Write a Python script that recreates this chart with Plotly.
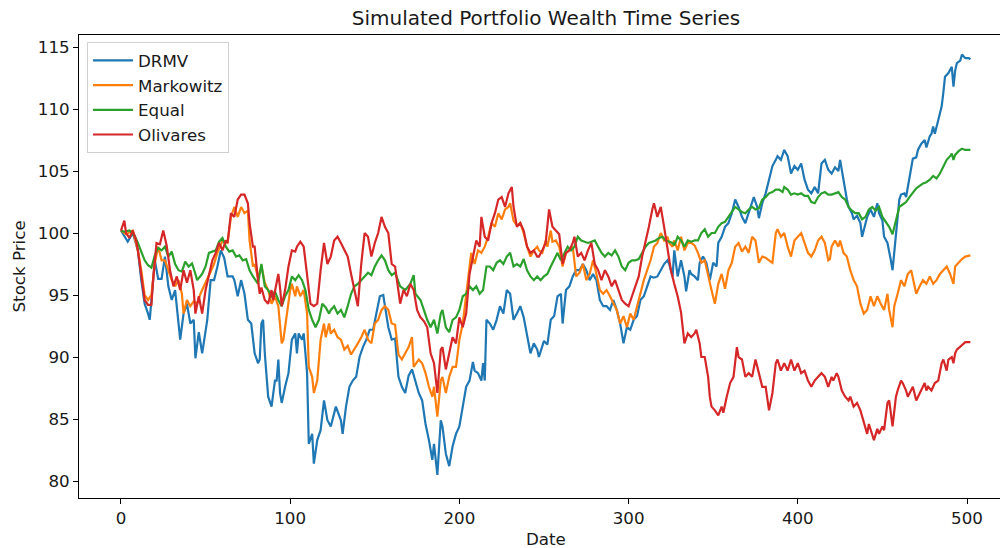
import plotly.graph_objects as go

# ---- data (date index, value) ----
drmv_points = [(0,100.2),(3,99.6),(4,99.3),(7,100),(10,98.6),(12,96.2),(14,94.3),(16,93.5),(17,93),(20,97.8),(22,96.3),(24,96.3),(26,98.1),(28,95.7),(30,94.6),(32,95.4),(35,91.4),(37,93.5),(39,94.3),(41,92.7),(43,93),(44,89.9),(46,92),(48,90.3),(51,93),(53,96.2),(55,96.2),(57,97.3),(59,98.6),(61,98),(63,96.5),(66,96.5),(67,96.2),(69,94.9),(71,96.2),(73,95.1),(75,93),(77,92.7),(79,90.3),
    (81,89.5),(82,89.8),(83,92.7),(84,93),(85,90.3),(87,86.8),(89,86),(91,88.1),(92,88.1),(93,89.8),(94,87.1),(95,86.3),(97,87.6),(99,88.7),(101,91.4),(103,91.9),(104,90.3),(105,91.9),(107,91.4),(108,91.9),(110,88.7),(111,83),(113,83.8),(114,81.4),(116,83.3),(118,84.1),(120,86.5),(122,84.9),(124,84.4),(126,85.4),(127,86),(130,84.9),(131,83.8),(133,86),(135,87.6),(137,88.1),(139,88.4),(141,90),(143,90.8),(145,91.4),(147,92.2),(149,92.2),(151,93.5),(153,94.9),(155,95),(156,94.1),(158,92.4),(160,91.4),(162,91.5),(164,88.4),
    (166,87.6),(168,87.1),(170,88.5),(172,89),(174,88.1),(176,87.1),(178,86.5),(180,84.6),(182,83.3),(184,81.7),(185,83),(187,80.5),(189,84.9),(190,84.4),(192,82.2),(194,81.2),(196,82.8),(198,83.8),(200,84.4),(202,86),(204,87.6),(206,88.1),(208,89.6),(209,88.9),(211,88.7),(213,88.1),(214,89.5),(215,88.1),(216,93),(218,92.7),(220,92.2),(222,93),(224,94.1),(226,93.5),(228,95.4),(230,95.1),(232,93),(234,93.5),(236,94.1),(238,93.2),(240,91.6),(242,90.3),(244,91.1),(246,90.6),(247,90),
    (250,91.3),(252,91),(254,93),(256,93.3),(258,94.9),(260,95.1),(261,92.7),(263,95.4),(265,95.7),(267,96.5),(269,97),(271,97),(273,97.5),(275,97),(277,96.2),(279,96.7),(281,96.2),(283,94.6),(285,94.1),(287,94.1),(289,93.8),(291,94.6),(293,93.8),(295,92.7),(297,91.1),(299,92.4),(301,92.2),(303,93),(305,93.3),(307,94.6),(309,94.9),(311,95.7),(313,96.5),(315,96.4),(317,96.5),(319,97),(321,97.5),(323,97.8),(324,97.5),(326,96.5),
    (327,98.6),(329,96.5),(331,97.8),(333,96.5),(334,95.3),(336,97),(337,96.7),(339,96.5),(341,96.2),(342,97.6),(344,98.1),(346,97.6),(348,96.2),(350,97.6),(352,97.3),(353,99.2),(355,99.7),(357,100.5),(359,100.8),(361,101.6),(363,102.7),(365,102.1),(367,101.3),(369,100.8),(371,101.6),(373,102.4),(374,102.9),(376,102.1),(377,101.2),(379,102.4),(381,103.2),(383,104.3),(385,105.4),(387,105.9),(388,106.2),(390,105.9),(392,106.7),(394,106.2),(396,104.8),(398,105.4),(400,105.1),(402,105.6),(404,104.3),(406,103.5),(408,103.2),(410,103.7),(412,103.2),(414,105.6),(416,105.9),
    (418,105.1),(420,104.8),(422,105.3),(424,105.0),(425,105.9),(426,105.0),(427,104.3),(429,102.7),(430,102.1),(432,101.6),(433,101.1),(435,101.4),(437,100.8),(438,99.7),(439,100.2),(441,101.3),(443,101.9),(445,101.3),(447,102.4),(448,101.6),(450,101),(451,99.7),(453,99.2),(454,98.6),(455,97.8),(456,97),(457,98.3),(458,99.7),(459,101.3),(460,102.7),(461,103.1),(463,103.2),(464,102.9),(465,103.7),(467,105.3),(468,106),(470,106.1),(471,106.7),(473,107.2),(475,107.5),(476,106.9),(478,107.8),(479,108),(480,108.6),(481,108),(483,109.1),(485,110.2),(486,111.3),(487,112.6),(489,112.9),(491,113.4),(492,111.8),(493,113.1),(494,113.7),(496,113.9),(497,114.4),(499,114.1),(501,114.1),(502,114.0)]

markowitz_points = [(0,100.2),(3,99.9),(7,100.2),(10,98.6),(12,97),(14,95),(16,94.6),(18,95),(20,97.6),(22,98.9),(24,97.8),(26,97.8),(28,97),(30,96.2),(32,95.7),(34,96.2),(36,95.1),(37,93.5),(39,94.6),(41,94.1),(43,94.5),(45,94.3),(47,95.1),(49,95.7),(52,96.6),(55,97.5),(57,98.4),(60,99.4),(63,99.2),(65,101.3),(67,102.1),(69,101.3),(71,102.1),(73,101.6),(75,101.8),(76,99.4),(78,97.3),
    (79,97.5),(81,96.4),(83,97.3),(85,96),(87,95.4),(89,94.3),(91,94.9),(93,94.1),(95,91.1),(96,91.4),(98,93.5),(100,95.4),(101,95.9),(103,94.9),(104,95.7),(106,94.9),(108,95.4),(110,93.5),(111,89.2),(113,88.4),(114,87.1),(116,88.1),(118,91.4),(120,92.7),(121,91.6),(123,92.7),(124,91.9),(126,92.2),(128,91.6),(130,91.4),(132,90.6),(134,90.9),(136,90.2),(138,90.6),(140,91.1),(142,91.6),(144,92.2),(146,91.4),(148,91.1),(150,92.7),(152,93),(154,93.8),(156,94.1),(158,93.8),(160,92.7),(162,92.6),(164,90.2),
    (166,89.8),(168,90.3),(170,90.8),(172,91.6),(173,89.2),(176,89.8),(178,89.5),(180,88.7),(182,87.6),(184,86.8),(185,87.6),(187,85.2),(189,88.1),(190,88.4),(192,87.1),(194,88.4),(196,89.2),(198,89.2),(200,91.4),(202,92.7),(204,94.9),(206,97),(207,98.4),(209,97.5),(211,98.6),(213,98.4),(215,98.9),(217,99.7),(219,100.8),(221,100.5),(223,101.6),(225,101.1),(227,101.9),(229,102.1),(230,102.4),(232,101),(234,100.6),(236,100.8),(238,100),(240,98.9),(242,98.1),(244,98.6),(246,98.9),
    (247,98.6),(249,98.4),(251,99.4),(252,98.9),(254,100.2),(255,99.3),(257,99.4),(259,98.9),(261,97.3),(263,98.4),(265,98.6),(267,98.9),(269,96.5),(271,96.8),(273,97.5),(275,96.2),(277,96.7),(279,97.8),(281,96.7),(283,95.4),(285,95.1),(287,95.4),(289,94.9),(291,94.3),(293,93.8),(295,92.7),(297,93.3),(299,92.4),(301,93.5),(303,93),(305,94.1),(307,95.1),(309,96.2),(311,97),(313,97.8),(315,98.9),(317,99.2),(319,100),(321,99.4),(323,99.7),(324,99.2),(326,98.9),
    (327,99.4),(329,98.6),(331,99.7),(333,98.6),(335,99.2),(337,99.2),(339,99.0),(341,98.4),(343,97.6),(345,97.8),(347,96.5),(349,95.4),(351,94.3),(353,95.9),(355,96.7),(357,95.5),(359,97),(361,97.6),(363,98.9),(365,99.2),(367,98.5),(369,98.9),(371,98.4),(373,99.7),(375,99.4),(377,97.6),(379,98.1),(381,98),(383,97.8),(385,97.6),(387,100),(388,100.3),(390,99.7),(392,100),(394,98.9),(396,98.1),(398,99.4),(400,99.7),(402,100),(404,99.2),(406,98.4),(408,98.1),(410,98.6),(412,99.4),(414,99.7),(416,99.2),(418,97.8),
    (419,97.9),(420,98.9),(422,99.4),(424,98.9),(425,99.4),(427,98.4),(429,98.1),(431,97),(433,96.2),(435,95.7),(437,94.3),(439,93.5),(441,93.8),(443,94.9),(445,94.1),(447,94.9),(449,94.3),(451,93.8),(453,95.1),(454,93.8),(456,92.4),(457,94.1),(459,95.1),(460,95.7),(461,96.2),(463,95.7),(465,96.7),(467,97),(469,95.7),(470,95.1),(472,95.7),(474,96.2),(476,95.9),(478,96.5),(480,95.9),(482,96.2),(484,96.7),(486,97),(488,97.3),(490,96.7),(492,95.9),(493,97.3),(495,97.6),(497,97.9),(499,98.1),(501,98.2),(502,98.2)]

equal_points = [(0,100.2),(2,100.1),(5,100.2),(8,99.8),(10,99.2),(12,98.5),(14,97.8),(16,97.4),(18,97.2),(20,98.2),(22,98.8),(24,98.6),(26,98.9),(28,98.1),(30,98.5),(32,97.5),(34,97),(36,96.9),(38,97.7),(40,97.3),(42,97.55),(44,96.7),(45,96.2),(48,96.7),(50,97.3),(52,98.4),(54,98.5),(56,98.6),(58,99.3),(60,99.6),(62,98.9),(64,98.5),(66,98.6),(68,98.1),(70,98.2),(72,97.8),(74,97.9),(76,97),(78,96.5),
    (80,96.1),(81,95.9),(83,97.5),(85,95.7),(87,95.4),(89,94.9),(91,95.3),(93,94.6),(95,94.1),(97,94.9),(99,95.4),(101,96.5),(103,96.2),(105,96.6),(107,96.2),(109,95.4),(111,93.8),(113,93),(115,92.4),(117,93),(119,94.3),(121,94),(123,93.5),(124,93.8),(126,94.1),(128,93.5),(130,93.8),(132,93.2),(134,94.1),(136,95.1),(138,95.7),(140,95.9),(142,96.2),(144,96.5),(146,96.8),(148,96.6),(150,97.3),(152,97.8),(154,98.2),(156,97.8),(158,97),(160,96.6),(162,96.8),
    (165,95.7),(168,95.4),(171,95.9),(173,96.6),(174,95.1),(177,94.6),(179,93.8),(181,93),(183,92.4),(185,93),(187,91.9),(189,93.5),(190,93.8),(192,92.4),(194,92),(196,93),(198,93.2),(200,93.8),(202,94.9),(204,95.1),(206,95.7),(208,95.4),(210,95.7),(212,95.1),(214,95.4),(216,97.3),(218,97.3),(220,97),(222,97.6),(224,97.8),(226,97.5),(228,98.1),(230,98.4),(232,97.3),(234,97.5),(236,97.3),(238,97.9),(240,97),(242,96.5),(244,96.2),
    (246,96.5),(248,96.2),(250,96.5),(252,96.7),(254,97.3),(256,97.8),(258,98.4),(260,97.8),(262,98.4),(264,98.9),(266,98.6),(268,98.9),(270,99.7),(272,99.4),(274,99.3),(276,99.2),(278,99.3),(280,99.4),(282,98.9),(284,98.4),(286,98.1),(288,98.4),(290,98.2),(292,98.6),(294,98.1),(296,97.3),(298,97),(300,97.6),(302,97.8),(304,97.8),(306,97.9),(308,98.4),(310,98.9),(312,99.2),(314,99.3),(316,99.4),(318,99.6),(320,99.7),(322,99.4),(324,99.3),(326,99.2),
    (327,99),(329,99.7),(331,99.4),(333,98.9),(335,99.4),(337,99.3),(339,99.4),(341,99.4),(343,100),(345,100.3),(347,99.7),(349,100),(351,100),(353,100.5),(355,100.8),(357,100.9),(359,101.3),(361,101.7),(363,102.1),(365,101.9),(367,101.7),(369,101.6),(371,101.9),(373,102.1),(375,101.9),(377,102),(379,102.7),(381,102.9),(383,103.2),(385,103.3),(387,103.5),(389,103.5),(391,103.3),(392,103.7),(394,103.5),(396,103.1),(398,103.2),(400,103.1),(402,103.2),(404,103),(406,103),(408,102.5),(410,102.4),(412,102.9),(414,103.2),(416,103.3),(418,103.1),
    (420,103.1),(422,103.2),(424,103.3),(426,102.9),(428,102.7),(430,102.1),(432,101.8),(434,101.6),(436,101.6),(438,101.1),(440,101.3),(442,101.9),(444,102.1),(446,101.8),(448,102.1),(450,101.3),(452,100.9),(454,100.5),(456,99.9),(457,100.4),(458,101),(460,102.1),(462,102.3),(464,102.5),(466,102.9),(468,103.3),(470,103.6),(472,103.8),(474,104),(476,104.1),(478,104.3),(480,104.6),(482,104.4),(484,104.8),(486,105.3),(488,105.9),(490,106.2),(491,106.4),(492,105.9),(493,106.3),(495,106.6),(497,106.8),(499,106.7),(502,106.7)]

olivares_points = [(0,100.2),(2,101),(3,100),(5,99.6),(7,100.2),(9,99.4),(10,98.6),(12,96.5),(14,94.6),(16,94.2),(18,94.2),(19,96.2),(21,99.2),(23,99.1),(25,100.2),(27,99),(29,97),(31,95.7),(33,96.5),(35,95.4),(37,97),(39,96),(41,97),(43,95.4),(44,93.5),(46,94.9),(48,93.5),(50,95.4),(52,96.5),(54,97.8),(56,98.4),(58,99.2),(60,98.6),(62,99.4),(63,99.2),(65,101.6),(67,101.3),(69,102.7),(71,103.1),(73,103.1),(75,102.4),(76,100.8),(78,98.9),
    (79,98.9),(81,96.2),(82,95.1),(83,95.6),(85,94.6),(87,94.3),(89,95.4),(90,94.6),(93,96.7),(94,95.6),(95,94.1),(97,95.4),(99,97.3),(101,98.6),(103,98.5),(104,98.9),(106,99.3),(108,98.9),(110,96.5),(112,94.3),(114,94.1),(116,94.3),(118,97),(120,99.2),(122,97.5),(124,98.1),(126,99.4),(128,99.7),(130,99.2),(132,98.6),(134,98.1),(136,96.7),(138,95.4),(140,94.1),(142,97.5),(144,100),(146,99.7),(148,98.1),(150,99.2),(152,100),(154,101.3),(156,100.5),(158,100),(160,97.5),(162,97.3),
    (164,95.4),(165,94.3),(167,95.4),(169,94.9),(171,95.9),(173,95.4),(175,93.8),(177,93.2),(179,92.9),(181,92.4),(183,90.3),(185,89.5),(187,87.1),(189,90.6),(190,90.8),(192,89),(194,90.3),(196,91.6),(198,91.1),(200,93.2),(202,92.4),(204,93.5),(206,96.7),(208,98.1),(210,99.4),(212,98.9),(213,101.3),(215,99.7),(217,99.4),(219,100.8),(221,101.6),(223,102.7),(225,102.9),(227,102.1),(229,103.2),(231,103.7),(232,102.1),(234,100.5),(236,100.8),(238,100.2),(240,98.9),(242,98.4),(244,98.6),(246,98.1),
    (247,98.1),(249,98.6),(251,99.2),(253,101.9),(255,100.5),(257,100.2),(259,99.9),(261,97.5),(263,98.4),(265,98.6),(267,99.2),(268,99.7),(270,98.1),(272,98.4),(274,97.8),(276,98.6),(278,99.2),(280,97.5),(282,97),(284,96.2),(286,97),(288,96.5),(290,95.7),(292,96.2),(294,95.4),(296,94.6),(298,94.3),(300,94.1),(302,94.9),(304,95.7),(306,96.5),(308,98.1),(310,99.2),(312,100.5),(314,101.9),(315,102.4),(317,101.3),(319,102.1),(321,100.5),(323,98.9),(325,97),
    (327,95.9),(329,94.9),(331,93.6),(332,92.2),(333,91.1),(335,91.9),(337,91.6),(339,91.9),(340,92.2),(342,91.1),(343,90),(345,90),(346,89),(347,88.4),(348,86.8),(349,86),(351,85.7),(353,85.3),(355,86),(356,85.5),(358,86.8),(360,87.9),(362,88.4),(364,90.8),(365,90),(367,89.8),(369,88.4),(371,88.7),(373,88.4),(375,89.8),(377,88.7),(379,87.6),(381,87.6),(383,85.7),(385,87.1),(387,89.5),(388,89.8),(390,88.9),(392,89.5),(394,88.9),(396,89.8),(398,88.9),(400,89.5),(402,88.7),(404,88.9),(406,88.1),(408,87.6),(410,88.1),(412,88.4),(414,88.7),(416,88.4),
    (418,87.6),(420,88.4),(421,88.1),(423,88.7),(424,88.4),(426,87.3),(428,86.8),(430,86.5),(431,86.8),(433,86),(435,86.3),(437,85.7),(439,84.7),(441,83.8),(442,84.6),(444,83.6),(445,83.3),(447,84.2),(448,83.8),(450,84.4),(451,84.1),(453,86.3),(454,86.5),(456,84.4),(457,85.5),(458,86.8),(459,87.3),(461,88.1),(462,87.9),(464,87.3),(465,86.8),(467,87.3),(468,87.6),(470,86.5),(471,86.8),(473,87.3),(475,87.9),(476,87.3),(477,87.6),(479,87.3),(481,87.9),(483,88.1),(485,89.5),(486,89.8),(488,88.9),(489,89.8),(491,90),(492,89.5),(493,90.3),(494,90.6),(497,91),(499,91.2),(502,91.2)]

series_names = ["DRMV", "Markowitz", "Equal", "Olivares"]
series_data = [drmv_points, markowitz_points, equal_points, olivares_points]
colors = ["#1f77b4", "#ff7f0e", "#2ca02c", "#d62728"]
x_ticks = [0, 100, 200, 300, 400, 500]
y_ticks = [80, 85, 90, 95, 100, 105, 110, 115]

FONT = "DejaVu Sans"
FS = 16.7
TXT = "#1a1a1a"
fig = go.Figure()
for name, pts, col in zip(series_names, series_data, colors):
    fig.add_trace(go.Scatter(
        x=[p[0] for p in pts], y=[p[1] for p in pts], mode="lines", name=name,
        line=dict(color=col, width=2.2), legendgroup=name,
    ))

fig.update_layout(
    width=1000, height=548,
    margin=dict(l=79, r=0, t=35, b=50),
    paper_bgcolor="white", plot_bgcolor="white",
    font=dict(family=FONT, size=FS, color=TXT),
    title=dict(text="Simulated Portfolio Wealth Time Series", x=0.546, xref="container",
               xanchor="center", y=1 - 18 / 548, yref="container", yanchor="middle",
               font=dict(family=FONT, size=20, color=TXT)),
    showlegend=True,
    legend=dict(x=(87 - 79) / 921, y=(498 - 42) / 463, xanchor="left", yanchor="top",
                bgcolor="rgba(255,255,255,0.8)", bordercolor="#d0d0d0", borderwidth=1,
                font=dict(family=FONT, size=FS, color=TXT), tracegroupgap=0,
                itemwidth=40),
    xaxis=dict(range=[-24.8, 519.5], tickvals=x_ticks, ticks="outside", ticklen=5,
               tickcolor="black", showline=True, linecolor="black", linewidth=1,
               mirror=True, showgrid=False, zeroline=False,
               tickfont=dict(family=FONT, size=FS, color=TXT)),
    yaxis=dict(range=[78.63, 115.97], tickvals=y_ticks, ticks="outside", ticklen=5,
               tickcolor="black", showline=True, linecolor="black", linewidth=1,
               mirror=False, showgrid=False, zeroline=False,
               tickfont=dict(family=FONT, size=FS, color=TXT)),
    annotations=[
        dict(text="Date", x=(546 - 79) / 921, y=(498 - 539) / 463, xref="paper", yref="paper",
             xanchor="center", yanchor="middle", showarrow=False,
             font=dict(family=FONT, size=FS, color=TXT)),
        dict(text="Stock Price", x=(18 - 79) / 921, y=0.5, xref="paper", yref="paper",
             xanchor="center", yanchor="middle", showarrow=False, textangle=-90,
             font=dict(family=FONT, size=FS, color=TXT)),
    ],
)

fig.write_html("out.html", config={"displayModeBar": False})

# remove the browser's default page margin so the figure sits at the window origin
with open("out.html", encoding="utf-8") as f:
    page = f.read()
page = page.replace("<head>", "<head><style>html,body{margin:0;padding:0;overflow:hidden;}</style>", 1)
with open("out.html", "w", encoding="utf-8") as f:
    f.write(page)
